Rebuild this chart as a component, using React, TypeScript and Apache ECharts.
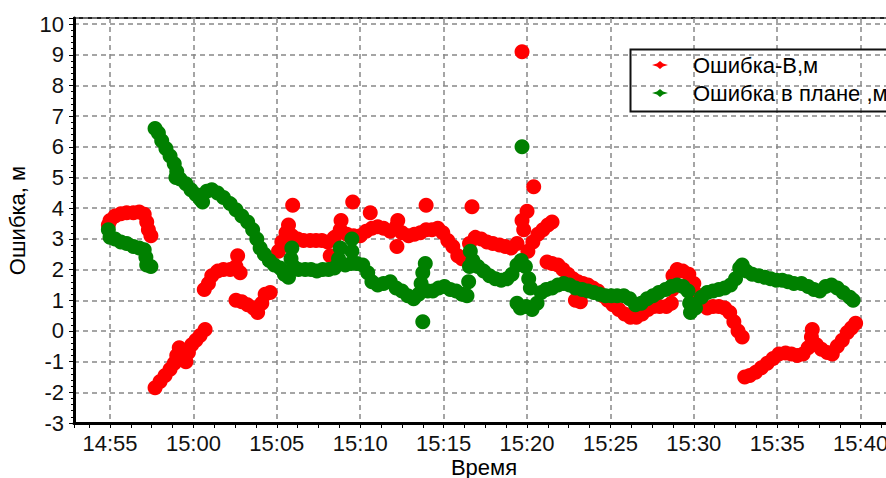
import React, { useEffect, useRef } from 'react';
import * as echarts from 'echarts';

// Time is given as minutes after 14:00 (55 = 14:55), values in metres.
const seriesNames = ['Ошибка-В,м', 'Ошибка в плане ,м'];
const xAxisName = 'Время';
const yAxisName = 'Ошибка, м';

const redErrorPoints: [number, number][] = [
  [54.9, 3.45], [55.0, 3.6], [55.3, 3.75], [55.65, 3.82], [56.0, 3.85], [56.4, 3.85], [56.75, 3.88], [57.05, 3.8], [57.2, 3.55], [57.3, 3.3], [57.45, 3.1],
  [57.7, -1.85], [58.0, -1.65], [58.3, -1.45], [58.6, -1.25], [58.85, -1.05], [59.0, -0.8], [59.15, -0.55], [59.4, -0.85], [59.55, -1.0], [59.7, -0.7], [59.9, -0.45], [60.15, -0.3], [60.4, -0.15], [60.7, 0.05],
  [60.65, 1.35], [60.9, 1.55], [61.1, 1.8], [61.45, 1.95], [61.8, 2.0], [62.2, 2.0], [62.55, 2.1], [62.65, 2.45], [62.8, 1.9],
  [62.55, 1.0], [62.9, 0.95], [63.25, 0.85], [63.6, 0.75], [63.85, 0.6], [64.1, 0.9], [64.3, 1.2], [64.6, 1.25],
  [65.1, 2.6], [65.3, 2.9], [65.55, 3.2], [65.7, 3.45], [65.95, 4.1], [65.9, 3.1], [66.25, 3.0], [66.6, 2.95], [67.0, 2.95], [67.35, 2.95], [67.7, 2.95], [68.05, 2.9], [68.2, 2.45], [68.45, 3.05], [68.8, 3.3], [68.85, 3.6], [69.2, 3.15], [69.55, 4.2], [69.6, 3.1], [70.0, 3.1], [70.35, 3.25], [70.6, 3.85], [70.7, 3.35], [71.05, 3.4], [71.4, 3.35], [71.8, 3.25], [72.15, 3.4], [72.25, 3.6], [72.2, 2.75], [72.5, 3.2], [72.9, 3.1], [73.25, 3.15], [73.6, 3.2], [73.95, 4.1], [73.95, 3.3], [74.3, 3.3], [74.65, 3.35], [74.95, 3.2], [75.25, 2.95], [75.55, 2.75], [75.85, 2.45], [76.1, 2.35], [76.7, 4.05], [76.55, 2.85], [76.9, 3.05], [77.25, 3.0], [77.6, 2.9], [77.95, 2.85], [78.35, 2.8], [78.7, 2.75], [79.05, 2.7], [79.4, 2.85], [79.7, 9.1], [79.7, 3.6], [79.8, 3.3], [80.0, 3.9], [80.4, 4.7], [80.05, 2.6], [80.35, 2.9], [80.65, 3.15], [80.95, 3.3], [81.25, 3.45], [81.5, 3.55],
  [81.2, 2.25], [81.5, 2.2], [81.85, 2.15], [82.15, 2.0], [82.45, 1.85], [82.75, 1.7], [82.9, 1.0], [83.05, 1.6], [83.2, 0.95], [83.35, 1.55], [83.65, 1.5], [83.95, 1.4], [84.25, 1.3], [84.55, 1.15], [84.85, 1.0], [85.15, 0.85], [85.5, 0.7], [85.85, 0.55], [86.2, 0.45], [86.55, 0.45], [86.9, 0.55], [87.25, 0.7], [87.6, 0.8], [87.95, 0.8], [88.35, 0.8], [88.65, 0.9], [88.7, 1.35], [88.75, 1.8], [89.0, 2.0], [89.35, 1.95], [89.7, 1.85], [90.0, 1.55], [90.15, 1.2], [90.45, 0.85], [90.8, 0.75], [91.15, 0.8], [91.5, 0.8], [91.85, 0.75], [92.15, 0.6], [92.4, 0.3], [92.65, 0.0], [92.9, -0.2],
  [93.05, -1.5], [93.35, -1.45], [93.7, -1.35], [94.05, -1.2], [94.4, -1.05], [94.75, -0.9], [95.1, -0.75], [95.5, -0.72], [95.85, -0.75], [96.2, -0.8], [96.55, -0.75], [96.85, -0.55], [97.05, -0.2], [97.1, 0.05], [97.35, -0.45], [97.65, -0.6], [98.0, -0.7], [98.3, -0.75], [98.6, -0.5], [98.9, -0.3], [99.2, -0.05], [99.45, 0.1], [99.7, 0.25],
];

const greenErrorPoints: [number, number][] = [
  [54.9, 3.3], [55.0, 3.05], [55.3, 3.0], [55.65, 2.9], [56.0, 2.85], [56.4, 2.75], [56.75, 2.7], [57.05, 2.65], [57.15, 2.4], [57.2, 2.15], [57.45, 2.1],
  [57.7, 6.6], [57.9, 6.45], [58.1, 6.2], [58.35, 5.95], [58.6, 5.7], [58.85, 5.45], [59.0, 5.2], [58.95, 5.0], [59.2, 4.95], [59.55, 4.8], [59.85, 4.6], [60.15, 4.45], [60.4, 4.3], [60.55, 4.2], [60.8, 4.55], [61.1, 4.6], [61.45, 4.5], [61.8, 4.35], [62.2, 4.15], [62.55, 3.95], [62.9, 3.75], [63.25, 3.55], [63.55, 3.3], [63.8, 3.0], [64.0, 2.7], [64.25, 2.5], [64.55, 2.3], [64.85, 2.15], [65.2, 2.05],
  [65.45, 1.85], [65.7, 1.75], [65.85, 2.35], [65.9, 2.7], [66.0, 2.1], [66.3, 2.0], [66.7, 2.0], [67.05, 2.0], [67.4, 1.95], [67.75, 2.0], [68.1, 2.0], [68.45, 2.05], [68.7, 2.35], [68.8, 2.7], [69.1, 2.15], [69.5, 2.6], [69.5, 3.0], [69.45, 2.2], [69.8, 2.2], [70.15, 2.15], [70.45, 1.9], [70.7, 1.6], [71.05, 1.5], [71.4, 1.55], [71.8, 1.6], [72.15, 1.4], [72.5, 1.3], [72.85, 1.15], [73.2, 1.05], [73.5, 1.2], [73.65, 1.55], [73.75, 1.9], [73.9, 2.2], [73.75, 0.3], [74.05, 1.3], [74.35, 1.3], [74.7, 1.4], [75.05, 1.45], [75.4, 1.35], [75.75, 1.3], [76.1, 1.2], [76.4, 1.15], [76.5, 1.6], [76.55, 2.1], [76.6, 2.6], [76.75, 2.3], [77.05, 2.1], [77.4, 1.95], [77.75, 1.8], [78.1, 1.7], [78.45, 1.65], [78.8, 1.7], [79.1, 1.85], [79.4, 2.15], [79.65, 2.3], [79.7, 6.0], [79.9, 2.1], [80.1, 1.7], [80.2, 1.4], [79.4, 0.9], [79.6, 0.75], [79.95, 0.8], [80.3, 0.7], [80.6, 0.9],
  [80.85, 1.25], [81.15, 1.35], [81.5, 1.4], [81.85, 1.5], [82.2, 1.55], [82.55, 1.5], [82.9, 1.4], [83.3, 1.35], [83.65, 1.3], [84.0, 1.25], [84.35, 1.2], [84.7, 1.15], [85.05, 1.15], [85.4, 1.15], [85.8, 1.15], [86.15, 1.05], [86.5, 0.85], [86.85, 0.9], [87.2, 1.05], [87.55, 1.15], [87.9, 1.25], [88.3, 1.35], [88.65, 1.45], [89.0, 1.5], [89.35, 1.45], [89.65, 1.3], [89.75, 0.9], [89.8, 0.6], [90.1, 0.75], [90.45, 1.1], [90.8, 1.25], [91.15, 1.3], [91.5, 1.35], [91.85, 1.4], [92.2, 1.5], [92.5, 1.7], [92.75, 2.05], [92.9, 2.15], [93.15, 1.95], [93.5, 1.85], [93.9, 1.8], [94.25, 1.75], [94.6, 1.7], [94.95, 1.65], [95.3, 1.65], [95.65, 1.6], [96.0, 1.55], [96.45, 1.55], [96.85, 1.45], [97.2, 1.35], [97.55, 1.3], [97.9, 1.45], [98.25, 1.5], [98.6, 1.4], [98.95, 1.25], [99.35, 1.1], [99.55, 1.0],
];

const xMinMinutes = 52.84;
const xMaxMinutes = 102;
const yMin = -3;
const yMax = 10.2;

const FONT = '"Liberation Sans", Arial, sans-serif';
const FS = 22;

function formatTime(v: number): string {
  const m = Math.round(v);
  if (Math.abs(v - m) > 0.01 || m % 5 !== 0) return '';
  const h = 14 + Math.floor(m / 60);
  const mm = m % 60;
  return `${h}:${String(mm).padStart(2, '0')}`;
}

export default function App() {
  const ref = useRef<HTMLDivElement>(null);
  useEffect(() => {
    document.body.style.margin = '0';
    if (!ref.current) return;
    const chart = echarts.init(ref.current, undefined, { renderer: 'svg' });
    const icon = 'path://M0,4 L5,2.6 L8,0 L11,2.6 L16,4 L11,5.4 L8,8 L5,5.4 Z';
    chart.setOption({
      animation: false,
      backgroundColor: '#fff',
      grid: {
        left: 74, top: 18, width: 820, height: 405,
        outerBoundsMode: 'none', containLabel: false,
        show: true, borderColor: '#222', borderWidth: 2, backgroundColor: 'transparent',
      },
      graphic: [
        {
          type: 'rect', left: 628, top: 47, z: 10,
          shape: { width: 320, height: 62 },
          style: { fill: 'none', stroke: '#111', lineWidth: 2 },
        },
      ],
      legend: {
        orient: 'vertical', left: 629, top: 48, z: 11,
        backgroundColor: 'transparent', borderWidth: 0,
        padding: [6, 5, 4, 23], itemGap: 6, itemWidth: 16, itemHeight: 9,
        textStyle: { fontSize: FS, color: '#000', fontFamily: FONT, padding: [0, 0, 0, 20], lineHeight: 22 },
        data: [
          { name: seriesNames[0], icon },
          { name: seriesNames[1], icon },
        ],
      },
      xAxis: {
        type: 'value', min: xMinMinutes, max: xMaxMinutes, splitNumber: 10,
        name: xAxisName, nameLocation: 'middle', nameGap: 33, nameMoveOverlap: false,
        nameTextStyle: { fontSize: FS, color: '#000', fontFamily: FONT, lineHeight: 22 },
        axisLine: { show: true, onZero: false, lineStyle: { color: '#000', width: 3 } },
        axisTick: { show: true, length: 5, lineStyle: { color: '#000', width: 1 } },
        minorTick: { show: true, splitNumber: 4, length: 5, lineStyle: { color: '#000', width: 1 } },
        axisLabel: { formatter: formatTime, fontSize: FS, color: '#111', fontFamily: FONT, margin: 9 },
        splitLine: { show: true, lineStyle: { color: '#888', type: [5, 4], width: 1.5 } },
      },
      yAxis: {
        type: 'value', min: yMin, max: yMax, interval: 1,
        name: yAxisName, nameLocation: 'middle', nameGap: 45, nameRotate: 90,
        nameTextStyle: { fontSize: FS, color: '#000', fontFamily: FONT },
        axisLine: { show: true, onZero: false, lineStyle: { color: '#000', width: 3 } },
        axisTick: { show: true, length: 5, lineStyle: { color: '#000', width: 1 } },
        minorTick: { show: true, splitNumber: 5, length: 3, lineStyle: { color: '#000', width: 1 } },
        axisLabel: {
          formatter: (v: number) => (Number.isInteger(v) ? String(v) : ''),
          fontSize: FS, color: '#111', fontFamily: FONT, margin: 10,
        },
        splitLine: { show: true, lineStyle: { color: '#888', type: [5, 4], width: 1.5 } },
      },
      series: [
        {
          name: seriesNames[0], type: 'scatter', data: redErrorPoints,
          symbol: 'circle', symbolSize: 15, itemStyle: { color: '#ff0000', opacity: 1 },
        },
        {
          name: seriesNames[1], type: 'scatter', data: greenErrorPoints,
          symbol: 'circle', symbolSize: 15, itemStyle: { color: '#008000', opacity: 1 },
        },
      ],
    });
    return () => chart.dispose();
  }, []);
  return <div ref={ref} style={{ width: 886, height: 478 }} />;
}
